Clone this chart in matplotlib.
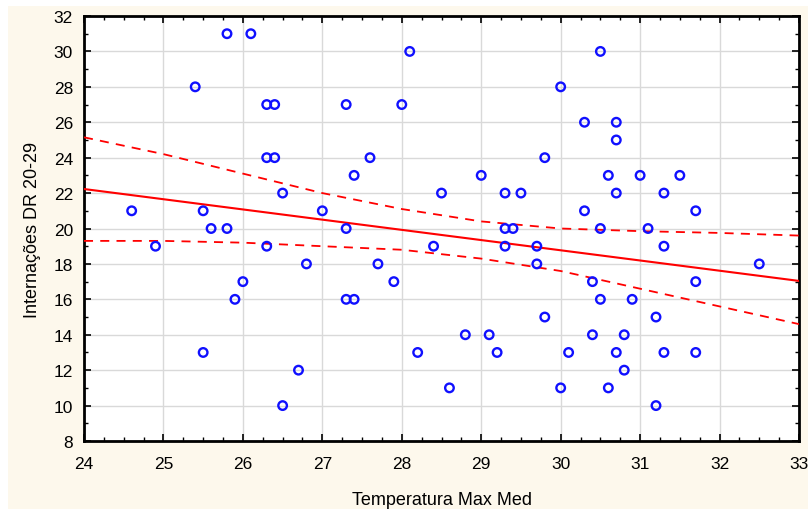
import numpy as np
import matplotlib
matplotlib.use("Agg")
import matplotlib.pyplot as plt
from matplotlib.ticker import MultipleLocator
from matplotlib.patches import Rectangle

temp_max = [24.6, 24.9, 25.4, 25.5, 25.5, 25.6, 25.8, 25.8, 25.9, 26.0,
            26.1, 26.3, 26.4, 26.3, 26.4, 26.3, 26.5, 26.5, 26.7, 26.8,
            27.0, 27.3, 27.3, 27.3, 27.4, 27.4, 27.6, 27.7, 27.9, 28.0,
            28.1, 28.2, 28.4, 28.5, 28.6, 28.8, 29.0, 29.1, 29.2, 29.3,
            29.3, 29.4, 29.3, 29.5, 29.7, 29.7, 29.8, 29.8, 30.0, 30.0,
            30.1, 30.3, 30.3, 30.4, 30.4, 30.5, 30.5, 30.5, 30.6, 30.6,
            30.7, 30.7, 30.7, 30.7, 30.8, 30.8, 30.9, 31.0, 31.1, 31.2,
            31.2, 31.3, 31.3, 31.3, 31.5, 31.7, 31.7, 31.7, 32.5]
internacoes = [21, 19, 28, 21, 13, 20, 31, 20, 16, 17,
               31, 27, 27, 24, 24, 19, 22, 10, 12, 18,
               21, 27, 20, 16, 16, 23, 24, 18, 17, 27,
               30, 13, 19, 22, 11, 14, 23, 14, 13, 22,
               20, 20, 19, 22, 19, 18, 24, 15, 28, 11,
               13, 26, 21, 17, 14, 30, 20, 16, 23, 11,
               26, 25, 22, 13, 14, 12, 16, 23, 20, 15,
               10, 22, 19, 13, 23, 21, 17, 13, 18]

# Regression line and 95% confidence band
line_x = [24, 33]
line_y = [22.23, 17.04]
band_x = [24.0, 25.0, 26.0, 27.0, 28.0, 29.0, 30.0, 31.0, 32.0, 33.0]
band_upper = [25.15, 24.2, 23.1, 22.0, 21.1, 20.4, 20.0, 19.85, 19.75, 19.6]
band_lower = [19.3, 19.3, 19.2, 19.0, 18.8, 18.3, 17.6, 16.6, 15.6, 14.6]

xticks = list(range(24, 34))
yticks = list(range(8, 33, 2))

plt.rcParams['font.family'] = ['Liberation Sans', 'DejaVu Sans']

fig = plt.figure(figsize=(8.08, 5.10), dpi=100)
fig.patch.set_facecolor('white')
W, H = 808, 510
fig.patches.append(Rectangle((8 / W, 0), 1 - 8 / W, 1 - 7 / H, transform=fig.transFigure,
                             facecolor='#fdf8ec', edgecolor='none', zorder=-10))

ax = fig.add_axes([84 / W, 1 - 442 / H, (799 - 84) / W, (442 - 17) / H])
ax.set_facecolor('white')

ax.plot(line_x, line_y, color='#ff0000', lw=1.5, zorder=3)
ax.plot(band_x, band_upper, color='#ff0000', lw=1.3, ls=(0, (5, 4)), zorder=3)
ax.plot(band_x, band_lower, color='#ff0000', lw=1.3, ls=(0, (5, 4)), zorder=3)
ax.scatter(temp_max, internacoes, s=38, facecolors='none', edgecolors='#1010ff',
           linewidths=1.7, zorder=4)

ax.set_xlim(24, 33)
ax.set_ylim(8, 32)
ax.set_xticks(xticks)
ax.set_yticks(yticks)
ax.xaxis.set_minor_locator(MultipleLocator(0.25))
ax.yaxis.set_minor_locator(MultipleLocator(1))
ax.tick_params(which='both', direction='in', top=True, right=True, colors='black',
               labelsize=12.5)
ax.tick_params(which='major', length=5, width=1.2)
ax.tick_params(which='minor', length=3, width=1.0)
ax.tick_params(axis='x', pad=11)
ax.tick_params(axis='y', pad=8)
ax.grid(True, which='major', color='#d9d9d9', lw=1.0, zorder=0)
ax.set_axisbelow(True)
for s in ax.spines.values():
    s.set_linewidth(2)
    s.set_color('black')

ax.set_xlabel('Temperatura Max Med', fontsize=13, labelpad=14)
ax.set_ylabel('Internações DR 20-29', fontsize=13, labelpad=9)

fig.savefig('out.png', dpi=100, facecolor=fig.get_facecolor())
